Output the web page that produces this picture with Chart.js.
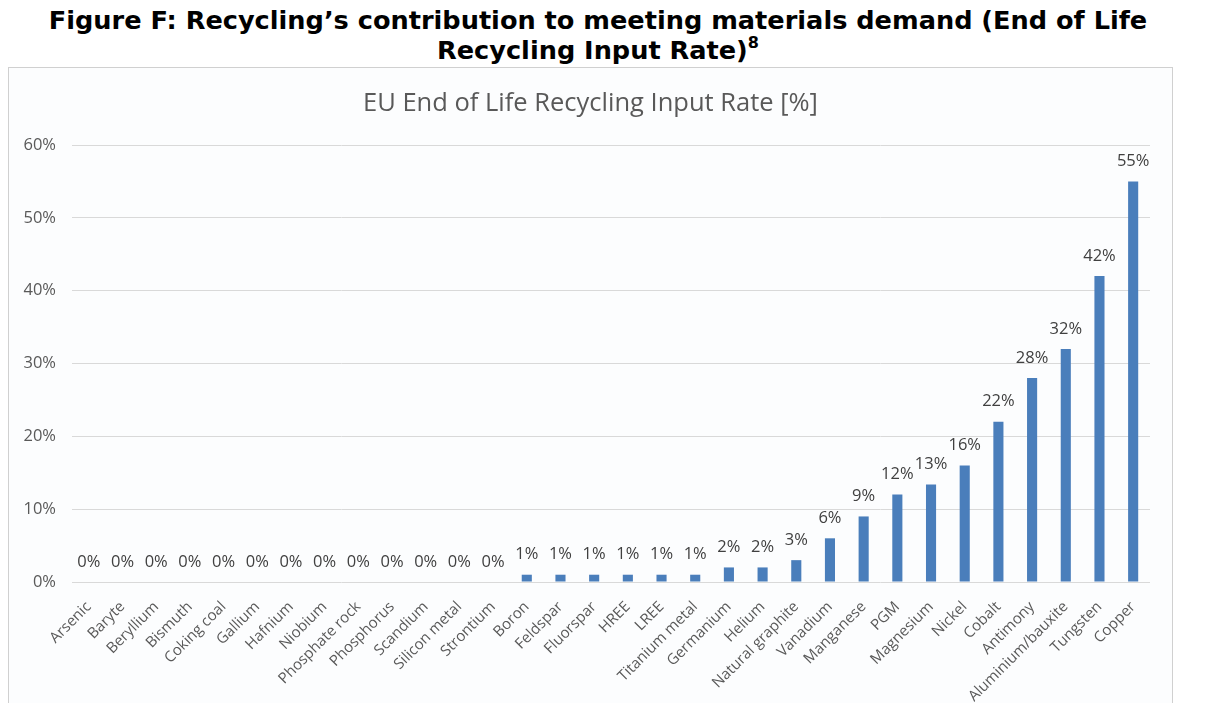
<!DOCTYPE html>
<html>
<head>
<meta charset="utf-8">
<script src="https://cdn.jsdelivr.net/npm/chart.js@4.4.1/dist/chart.umd.min.js"></script>
<style>
  body { margin: 0; background: #fff; width: 1207px; height: 703px; overflow: hidden; position: relative; }
  .fig_title {
    position: absolute; left: 0; top: 5px; width: 1196px;
    text-align: center; font-family: "DejaVu Sans", Verdana, sans-serif; font-weight: bold;
    font-size: 25.6px; line-height: 30px; color: #000;
  }
  .fig_title sup { font-size: 16px; line-height: 0; vertical-align: 11px; }
  .chart_box {
    position: absolute; left: 8px; top: 67px; width: 1163px; height: 660px;
    border: 1px solid #d0d0d0; background: #fcfdfe;
  }
</style>
</head>
<body>
<div class="fig_title">Figure F: Recycling’s contribution to meeting materials demand (End of Life<br>Recycling Input Rate)<sup>8</sup></div>
<div class="chart_box"><canvas id="myChart" width="1163" height="640"></canvas></div>
<script>
const materials = ['Arsenic', 'Baryte', 'Beryllium', 'Bismuth', 'Coking coal', 'Gallium', 'Hafnium', 'Niobium',
  'Phosphate rock', 'Phosphorus', 'Scandium', 'Silicon metal', 'Strontium', 'Boron', 'Feldspar', 'Fluorspar',
  'HREE', 'LREE', 'Titanium metal', 'Germanium', 'Helium', 'Natural graphite', 'Vanadium', 'Manganese', 'PGM',
  'Magnesium', 'Nickel', 'Cobalt', 'Antimony', 'Aluminium/bauxite', 'Tungsten', 'Copper'];
const inputRate = [0, 0, 0, 0, 0, 0, 0, 0, 0, 0, 0, 0, 0, 1, 1, 1, 1, 1, 1, 2, 2, 3, 6, 9, 12, 13.4, 16, 22, 28, 32, 42, 55];
const yTicks = [0, 10, 20, 30, 40, 50, 60];
const chartTitle = 'EU End of Life Recycling Input Rate [%]';

const grey = '#595959';

// заголовок по центру рамки и подписи над столбцами
const barLabels = {
  id: 'barLabels',
  afterDatasetsDraw(chart) {
    const c = chart.ctx;
    const meta = chart.getDatasetMeta(0);
    c.save();
    c.textAlign = 'center';
    c.textBaseline = 'middle';

    c.font = '25.5px "Open Sans"';
    c.fillStyle = grey;
    c.fillText(chartTitle, chart.width / 2, 36);

    c.font = '16.5px "Open Sans"';
    c.fillStyle = '#404040';
    meta.data.forEach(function (bar, i) {
      c.fillText(Math.round(inputRate[i]) + '%', bar.x, bar.y - 20);
    });
    c.restore();
  }
};

const ctx = document.getElementById('myChart').getContext('2d');

const myChart = new Chart(ctx, {
  type: 'bar',
  data: {
    labels: materials,
    datasets: [{
      label: 'EU End of Life Recycling Input Rate',
      data: inputRate,
      backgroundColor: '#4a7ebb',
      barPercentage: 0.6,
      categoryPercentage: 0.5
    }]
  },
  options: {
    responsive: false,
    animation: false,
    layout: { padding: { top: 77, right: 22, left: 0, bottom: 0 } },
    plugins: {
      legend: { display: false },
      tooltip: { enabled: false },
      title: { display: false }
    },
    scales: {
      x: {
        grid: { display: false },
        border: { display: false },
        ticks: {
          color: grey,
          font: { family: 'Open Sans', size: 15 },
          maxRotation: 45,
          minRotation: 45,
          autoSkip: false,
          padding: 8
        },
        afterFit: function (scale) { scale.height = 126; }
      },
      y: {
        min: 0,
        max: 60,
        afterBuildTicks: function (scale) { scale.ticks = yTicks.map(v => ({ value: v })); },
        grid: { color: '#d9d9d9', drawTicks: false },
        border: { display: false },
        ticks: {
          color: grey,
          font: { family: 'Open Sans', size: 16.5 },
          padding: 16,
          callback: function (v) { return v + '%'; }
        },
        afterFit: function (scale) { scale.width = 63; }
      }
    }
  },
  plugins: [barLabels]
});
</script>
</body>
</html>
